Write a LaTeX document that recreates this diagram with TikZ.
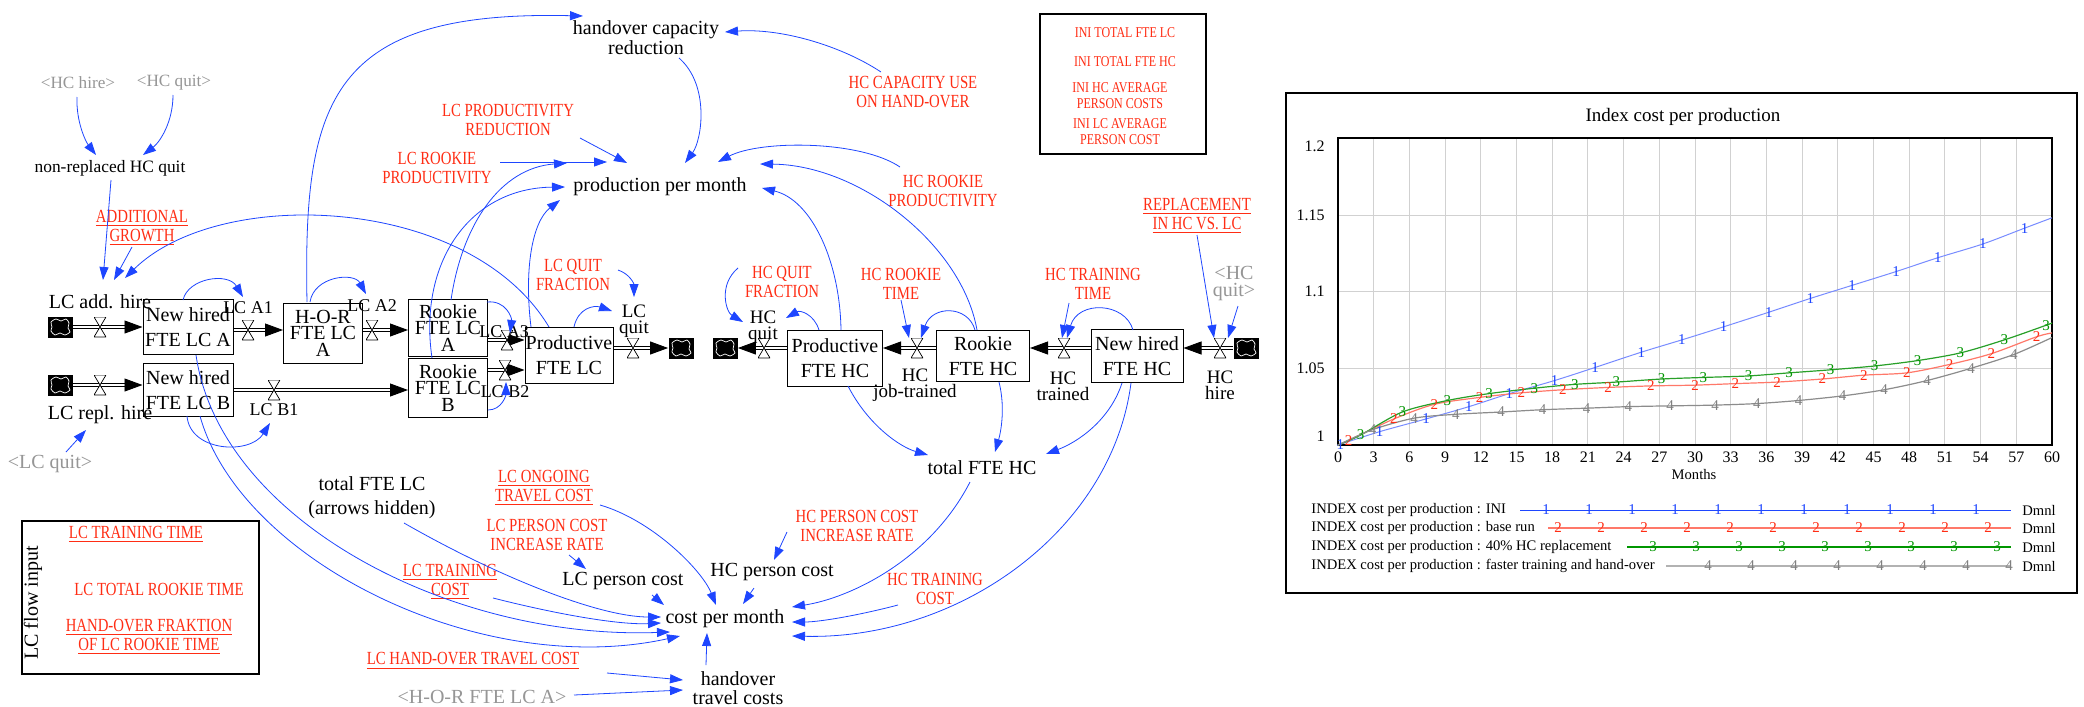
\documentclass[tikz,border=0pt]{standalone}
\usepackage{fontspec}
\setmainfont{Liberation Serif}
\newfontfamily\condfont[FakeStretch=0.8]{Liberation Serif}
\usetikzlibrary{arrows.meta, backgrounds}

\definecolor{vblue}{RGB}{30,70,255}
\definecolor{vred}{RGB}{255,45,20}
\definecolor{vgray}{RGB}{150,150,150}
\definecolor{lnblue}{RGB}{120,140,255}
\definecolor{lnred}{RGB}{255,120,105}
\definecolor{lngreen}{RGB}{40,160,40}
\definecolor{mkgreen}{RGB}{0,150,0}

\tikzset{
  stock/.style={draw, line width=0.5pt, fill=white, align=center, inner sep=0pt, font=\fontsize{10}{12.5}\selectfont},
  stockthree/.style={stock, font=\fontsize{10}{8.2}\selectfont},
  var/.style={align=center, inner sep=1pt, font=\fontsize{10}{11}\selectfont},
  flowlbl/.style={align=center, inner sep=0.5pt, font=\fontsize{9.5}{8}\selectfont},
  smalllbl/.style={inner sep=1pt, font=\fontsize{9}{10}\selectfont},
  const/.style={align=center, inner sep=1pt, text=vred, font=\condfont\fontsize{9.25}{9.7}\selectfont},
  initext/.style={const, font=\condfont\fontsize{7.5}{8}\selectfont},
  ghost/.style={align=center, inner sep=1pt, text=vgray, font=\fontsize{10}{8.5}\selectfont},
  conn/.style={draw=vblue, line width=0.4pt, -{Triangle[length=6.5pt,width=4.5pt]}},
  pipe/.style={double, double distance=1.2pt, line width=0.45pt, -{Triangle[length=9pt,width=6.5pt]}},
  valve/.style={minimum width=6pt, minimum height=10pt, inner sep=0pt,
    path picture={\filldraw[fill=white, line width=0.35pt] (path picture bounding box.north west) -- (path picture bounding box.north east) -- (path picture bounding box.south west) -- (path picture bounding box.south east) -- cycle;}},
  sinkcloud/.style={minimum width=12.5pt, minimum height=10.5pt, inner sep=0pt, fill=black,
    path picture={\draw[white, line width=0.35pt, shift={(path picture bounding box.center)}] plot[smooth cycle] coordinates {(-9,-5) (-4,-8) (1,-6) (6,-8) (9,-4) (8,1) (10,5) (5,8) (0,6) (-5,8) (-9,4) (-8,0)};}},
  grid/.style={draw=black!18, line width=0.5pt},
  tick/.style={inner sep=1pt, font=\fontsize{8}{9}\selectfont},
  legend/.style={inner sep=0pt, anchor=west, font=\fontsize{7.3}{8}\selectfont},
  mk/.style={inner sep=0pt, font=\fontsize{7.5}{8}\selectfont}
}

\begin{document}
\begin{tikzpicture}[x=0.5pt, y=-0.5pt]
	\useasboundingbox (0,0) rectangle (2084,707);

	% stocks
	\node[stock, minimum width=45pt, minimum height=27.5pt] (nhA) at (188,327) {New hired\\FTE LC A};
	\node[stockthree, minimum width=39.5pt, minimum height=30pt] (horA) at (323,333) {H-O-R\\FTE LC\\A};
	\node[stockthree, minimum width=39.5pt, minimum height=28.5pt] (rkA) at (448,328) {Rookie\\FTE LC\\A};
	\node[stockthree, minimum width=39.5pt, minimum height=29.5pt] (rkB) at (448,388) {Rookie\\FTE LC\\B};
	\node[stock, minimum width=45pt, minimum height=26.5pt] (nhB) at (188,390) {New hired\\FTE LC B};
	\node[stock, minimum width=44pt, minimum height=28pt] (prodLC) at (569,355) {Productive\\FTE LC};
	\node[stock, minimum width=47.5pt, minimum height=28pt] (prodHC) at (835,358) {Productive\\FTE HC};
	\node[stock, minimum width=46.5pt, minimum height=25.5pt] (rkHC) at (983,356) {Rookie\\FTE HC};
	\node[stock, minimum width=46pt, minimum height=26.5pt] (nhHC) at (1137,356) {New hired\\FTE HC};

	% clouds and valves
	\node[sinkcloud] (cLA) at (60,327) {};
	\node[sinkcloud] (cLB) at (60,385) {};
	\node[sinkcloud] (cLQ) at (681,348) {};
	\node[sinkcloud] (cHQ) at (725,348) {};
	\node[sinkcloud] (cHH) at (1246,348) {};
	\node[valve] (vLA) at (100,327) {};
	\node[valve] (vA1) at (248,330) {};
	\node[valve] (vA2) at (372,330) {};
	\node[valve] (vA3) at (507,340) {};
	\node[valve] (vLB) at (100,385) {};
	\node[valve] (vB1) at (274,390) {};
	\node[valve] (vB2) at (505,370) {};
	\node[valve] (vLQ) at (633,348) {};
	\node[valve] (vHQ) at (764,348) {};
	\node[valve] (vHJ) at (917,348) {};
	\node[valve] (vHT) at (1064,348) {};
	\node[valve] (vHH) at (1220,348) {};

	% flows
	\begin{scope}[on background layer]
		\fill[white] (0,0) rectangle (2084,707);
		\draw[pipe] (cLA) -- (nhA);
		\draw[pipe] (nhA.east |- vA1) -- (horA.west |- vA1);
		\draw[pipe] (horA.east |- vA2) -- (rkA.west |- vA2);
		\draw[pipe] (rkA.east |- vA3) -- (prodLC.west |- vA3);
		\draw[pipe] (cLB) -- (nhB.west |- cLB);
		\draw[pipe] (nhB.east |- vB1) -- (rkB.west |- vB1);
		\draw[pipe] (rkB.east |- vB2) -- (prodLC.west |- vB2);
		\draw[pipe] (prodLC.east |- vLQ) -- (cLQ);
		\draw[pipe] (prodHC.west |- vHQ) -- (cHQ);
		\draw[pipe] (rkHC.west |- vHJ) -- (prodHC.east |- vHJ);
		\draw[pipe] (nhHC.west |- vHT) -- (rkHC.east |- vHT);
		\draw[pipe] (cHH) -- (nhHC.east |- vHH);
	\end{scope}

	% flow labels
	\node[var] (lcah) at (100,302) {LC add. hire};
	\node[var] (lcrh) at (100,415) {LC repl. hire};
	\node[smalllbl] (lA1) at (248,308) {LC A1};
	\node[smalllbl] (lA2) at (372,306) {LC A2};
	\node[smalllbl] (lA3) at (504,332) {LC A3};
	\node[smalllbl] (lB1) at (274,410) {LC B1};
	\node[smalllbl] (lB2) at (505,392) {LC B2};
	\node[flowlbl] (lcq) at (634,321) {LC\\quit};
	\node[flowlbl] (hcq) at (763,327) {HC\\quit};
	\node[flowlbl] (hcjt) at (915,385) {HC\\job-trained};
	\node[flowlbl] (hct) at (1063,386) {HC\\trained};
	\node[flowlbl] (hch) at (1220,385) {HC\\hire};

	% variables
	\node[var, font=\fontsize{10}{8}\selectfont] (hcr) at (646,38) {handover capacity\\reduction};
	\node[var] (ppm) at (660,187) {production per month};
	\node[var, font=\fontsize{8.7}{9}\selectfont] (nrq) at (110,168) {non-replaced HC quit};
	\node[var, font=\fontsize{10}{12}\selectfont] (tlc) at (372,498) {total FTE LC\\(arrows hidden)};
	\node[var] (lcpcost) at (623,581) {LC person cost};
	\node[var] (cpm) at (725,619) {cost per month};
	\node[var, font=\fontsize{10}{9.5}\selectfont] (htc) at (738,688) {handover\\travel costs};
	\node[var] (hcpcost) at (772,572) {HC person cost};
	\node[var] (thc) at (982,468) {total FTE HC};

	% constants
	\node[const] (lcpr) at (508,120) {LC PRODUCTIVITY\\REDUCTION};
	\node[const] (lcrp) at (437,168) {LC ROOKIE\\PRODUCTIVITY};
	\node[const] (hcu) at (913,92) {HC CAPACITY USE\\ON HAND-OVER};
	\node[const] (hcrp) at (943,191) {HC ROOKIE\\PRODUCTIVITY};
	\node[const] (addg) at (142,228) {\underline{ADDITIONAL}\\\underline{GROWTH}};
	\node[const] (repl) at (1197,216) {\underline{REPLACEMENT}\\\underline{IN HC VS. LC}};
	\node[const] (lcqf) at (573,275) {LC QUIT\\FRACTION};
	\node[const] (hcqf) at (782,282) {HC QUIT\\FRACTION};
	\node[const] (hcrt) at (901,284) {HC ROOKIE\\TIME};
	\node[const] (hctt) at (1093,284) {HC TRAINING\\TIME};
	\node[const] (lcot) at (544,488) {\underline{LC ONGOING}\\\underline{TRAVEL COST}};
	\node[const] (lcpc) at (547,535) {LC PERSON COST\\INCREASE RATE};
	\node[const] (lctc) at (450,582) {\underline{LC TRAINING}\\\underline{COST}};
	\node[const] (lchtc) at (473,661) {\underline{LC HAND-OVER TRAVEL COST}};
	\node[const] (hcpc) at (857,526) {HC PERSON COST\\INCREASE RATE};
	\node[const] (hctc) at (935,589) {HC TRAINING\\COST};

	% shadow variables
	\node[ghost, font=\fontsize{8.6}{9}\selectfont] (hcg) at (78,83) {<HC hire>};
	\node[ghost, font=\fontsize{8.6}{9}\selectfont] (hcqg) at (174,83) {<HC quit>};
	\node[ghost] (hcqg2) at (1234,284) {<HC\\quit>};
	\node[ghost] (lcqg) at (50,464) {<LC quit>};
	\node[ghost] (horg) at (482,697) {<H-O-R FTE LC A>};

	% initial values box
	\draw[line width=0.6pt] (1040,14) rectangle (1206,154);
	\node[initext] (ini1) at (1125,33) {INI TOTAL FTE LC};
	\node[initext] (ini2) at (1125,62) {INI TOTAL FTE HC};
	\node[initext] (ini3) at (1120,96) {INI HC AVERAGE\\PERSON COSTS};
	\node[initext] (ini4) at (1120,132) {INI LC AVERAGE\\PERSON COST};

	% LC flow input box
	\draw[line width=0.6pt] (22,521) rectangle (259,674);
	\node[var, rotate=90] (lcfi) at (33,603) {LC flow input};
	\node[const] (lctt) at (136,534) {\underline{LC TRAINING TIME}};
	\node[const] (lctrt) at (159,589) {LC TOTAL ROOKIE TIME};
	\node[const] (hofr) at (149,637) {\underline{HAND-OVER FRAKTION}\\\underline{OF LC ROOKIE TIME}};

	% connectors, upper part
	\draw[conn] ([shift={(-16,-31)}]horA.center) .. controls (303,100) and (330,10) .. ([shift={(-63,-22)}]hcr.center);
	\draw[conn] ([shift={(-32,-20)}]hcu.center) .. controls (840,45) and (780,28) .. ([shift={(79,-6)}]hcr.center);
	\draw[conn] ([shift={(33,20)}]hcr.center) .. controls (710,85) and (702,140) .. ([shift={(25,-24)}]ppm.center);
	\draw[conn] ([shift={(72,18)}]lcpr.center) -- ([shift={(-33,-24)}]ppm.center);
	\draw[conn] ([shift={(63,-6)}]lcrp.center) -- ([shift={(-53,-25)}]ppm.center);
	\draw[conn] ([shift={(3,-28)}]rkA.center) .. controls (462,225) and (500,168) .. ([shift={(-93,-24)}]ppm.center);
	\draw[conn] ([shift={(-16,-30)}]rkB.center) .. controls (418,262) and (470,188) .. ([shift={(-95,0)}]ppm.center);
	\draw[conn] ([shift={(-38,-28)}]prodLC.center) .. controls (524,270) and (532,222) .. ([shift={(-100,13)}]ppm.center);
	\draw[conn] ([shift={(-43,-24)}]hcrp.center) .. controls (860,140) and (760,140) .. ([shift={(58,-25)}]ppm.center);
	\draw[conn] ([shift={(-6,-26)}]rkHC.center) .. controls (962,245) and (860,165) .. ([shift={(100,-23)}]ppm.center);
	\draw[conn] ([shift={(6,-28)}]prodHC.center) .. controls (840,262) and (812,200) .. ([shift={(102,1)}]ppm.center);
	\draw[conn] ([shift={(-20,-28)}]prodLC.center) .. controls (470,195) and (220,185) .. ([shift={(25,-24)}]lcah.center);
	\draw[conn] ([shift={(1,12)}]nrq.center) -- ([shift={(3,-22)}]lcah.center);
	\draw[conn] ([shift={(-10,19)}]addg.center) -- ([shift={(14,-22)}]lcah.center);
	\draw[conn] ([shift={(-1,14)}]hcg.center) .. controls (76,122) and (86,142) .. ([shift={(-14,-13)}]nrq.center);
	\draw[conn] ([shift={(-1,12)}]hcqg.center) .. controls (173,122) and (160,142) .. ([shift={(33,-13)}]nrq.center);

	% connectors to flows
	\draw[conn] ([shift={(45,-5)}]lcqf.center) .. controls (630,274) and (634,284) .. ([shift={(0,-24)}]lcq.center);
	\draw[conn] ([shift={(5,-28)}]prodLC.center) .. controls (578,308) and (594,305) .. ([shift={(-22,-10)}]lcq.center);
	\draw[conn] ([shift={(-5,-27)}]nhA.center) .. controls (188,278) and (228,272) .. ([shift={(-5,-11)}]lA1.center);
	\draw[conn] ([shift={(-13,-31)}]horA.center) .. controls (314,276) and (354,272) .. ([shift={(-6,-12)}]lA2.center);
	\draw[conn] ([shift={(39,-26)}]rkA.center) .. controls (506,300) and (512,318) .. ([shift={(3,-7)}]vA3.center);
	\draw[conn] ([shift={(-1,26)}]nhB.center) .. controls (190,452) and (250,455) .. ([shift={(-4,13)}]lB1.center);
	\draw[conn] ([shift={(40,22)}]rkB.center) .. controls (502,410) and (506,395) .. ([shift={(1,12)}]vB2.center);
	\draw[conn] ([shift={(16,-12)}]lcqg.center) -- ([shift={(-14,15)}]lcrh.center);
	\draw[conn] ([shift={(-44,-14)}]hcqf.center) .. controls (718,285) and (726,312) .. ([shift={(-20,-5)}]hcq.center);
	\draw[conn] ([shift={(-16,-28)}]prodHC.center) .. controls (814,314) and (800,310) .. ([shift={(23,-9)}]hcq.center);
	\draw[conn] ([shift={(0,16)}]hcrt.center) -- ([shift={(-8,-10)}]vHJ.center);
	\draw[conn] ([shift={(-8,-26)}]rkHC.center) .. controls (968,305) and (932,305) .. ([shift={(4,-10)}]vHJ.center);
	\draw[conn] ([shift={(-24,19)}]hctt.center) -- ([shift={(-2,-10)}]vHT.center);
	\draw[conn] ([shift={(-4,-26)}]nhHC.center) .. controls (1125,302) and (1078,300) .. ([shift={(3,-10)}]vHT.center);
	\draw[conn] ([shift={(0,19)}]repl.center) -- ([shift={(-6,-10)}]vHH.center);
	\draw[conn] ([shift={(4,22)}]hcqg2.center) -- ([shift={(8,-10)}]vHH.center);

	% connectors, lower part
	\draw[conn] ([shift={(13,28)}]prodHC.center) .. controls (868,425) and (900,447) .. ([shift={(-54,-13)}]thc.center);
	\draw[conn] ([shift={(16,26)}]rkHC.center) .. controls (1006,410) and (1000,435) .. ([shift={(13,-16)}]thc.center);
	\draw[conn] ([shift={(-15,27)}]nhHC.center) .. controls (1110,420) and (1078,442) .. ([shift={(64,-14)}]thc.center);
	\draw[conn] ([shift={(-12,14)}]thc.center) .. controls (930,560) and (850,598) .. ([shift={(67,-12)}]cpm.center);
	\draw[conn] ([shift={(-6,27)}]nhHC.center) .. controls (1112,530) and (960,640) .. ([shift={(67,17)}]cpm.center);
	\draw[conn] ([shift={(-37,16)}]hctc.center) .. controls (860,615) and (820,622) .. ([shift={(67,3)}]cpm.center);
	\draw[conn] ([shift={(-18,16)}]hcpcost.center) -- ([shift={(18,-15)}]cpm.center);
	\draw[conn] ([shift={(-70,6)}]hcpc.center) -- ([shift={(2,-12)}]hcpcost.center);
	\draw[conn] ([shift={(29,14)}]lcpcost.center) -- ([shift={(-61,-14)}]cpm.center);
	\draw[conn] ([shift={(22,20)}]lcpc.center) -- ([shift={(-37,-12)}]lcpcost.center);
	\draw[conn] ([shift={(56,17)}]lcot.center) .. controls (652,520) and (702,570) .. ([shift={(-9,-14)}]cpm.center);
	\draw[conn] ([shift={(32,25)}]tlc.center) .. controls (500,578) and (600,617) .. ([shift={(-64,-2)}]cpm.center);
	\draw[conn] ([shift={(43,16)}]lctc.center) .. controls (560,615) and (620,625) .. ([shift={(-64,4)}]cpm.center);
	\draw[conn] ([shift={(8,28)}]nhA.center) .. controls (220,520) and (450,640) .. ([shift={(-55,13)}]cpm.center);
	\draw[conn] ([shift={(12,26)}]nhB.center) .. controls (240,560) and (480,680) .. ([shift={(-45,17)}]cpm.center);
	\draw[conn] ([shift={(134,12)}]lchtc.center) -- ([shift={(-55,-8)}]htc.center);
	\draw[conn] ([shift={(92,-2)}]horg.center) -- ([shift={(-55,2)}]htc.center);
	\draw[conn] ([shift={(-32,-23)}]htc.center) -- ([shift={(-18,14)}]cpm.center);

	% graph
	\draw[line width=0.6pt] (1286,93) rectangle (2077,593);
	\node[inner sep=1pt, font=\fontsize{9.5}{11}\selectfont] (ctitle) at (1683,117) {Index cost per production};
	\foreach \k in {1,...,19}
		\draw[grid] ({1338+35.7*\k},138) -- ({1338+35.7*\k},445);
	\foreach \yy in {215,291,368}
		\draw[grid] (1338,\yy) -- (2052,\yy);
	\draw[line width=1.1pt] (1338,138) rectangle (2052,445);
	\foreach \m in {0,3,...,60}
		\node[tick] (xt\m) at ({1338+11.9*\m},457) {\m};
	\node[tick, anchor=east] (yt1) at (1327,146) {1.2};
	\node[tick, anchor=east] (yt2) at (1327,215) {1.15};
	\node[tick, anchor=east] (yt3) at (1327,291) {1.1};
	\node[tick, anchor=east] (yt4) at (1327,368) {1.05};
	\node[tick, anchor=east] (yt5) at (1327,436) {1};
	\node[tick, font=\fontsize{7.3}{8}\selectfont] (months) at (1694,475) {Months};

	\begin{scope}[shift={(1338,445)}, x=5.95pt, y=767.5pt]
		\draw[lnblue, line width=0.5pt] plot[smooth] coordinates {(0,0) (0.2,0.0005) (3.5,0.0087) (7.4,0.017) (11,0.025) (14.4,0.0335) (18.2,0.042) (21.6,0.0505) (25.5,0.0605) (28.9,0.0685) (32.4,0.077) (36.2,0.0865) (39.7,0.0955) (43.2,0.104) (46.9,0.113) (50.4,0.122) (54.2,0.131) (57.7,0.1413) (60,0.148)};
		\draw[lnred, line width=0.6pt] plot[smooth] coordinates {(0,0) (0.9,0.003) (4.7,0.017) (8.1,0.0265) (11.9,0.031) (15.4,0.034) (18.9,0.036) (22.7,0.0375) (26.3,0.0385) (30,0.039) (33.4,0.04) (36.9,0.041) (40.7,0.043) (44.2,0.0455) (47.8,0.047) (51.4,0.0525) (54.9,0.0595) (58.7,0.0705) (60,0.073)};
		\draw[lngreen, line width=0.6pt] plot[smooth] coordinates {(0,0) (1.9,0.0065) (5.4,0.0215) (9.2,0.029) (12.7,0.0335) (16.5,0.037) (19.9,0.0395) (23.4,0.041) (27.2,0.043) (30.7,0.044) (34.5,0.045) (37.9,0.047) (41.4,0.049) (45.1,0.0515) (48.7,0.055) (52.3,0.06) (56,0.0685) (59.5,0.078) (60,0.0795)};
		\draw[black!45, line width=0.6pt] plot[smooth] coordinates {(0,0) (2.9,0.01) (6.4,0.0175) (9.9,0.02) (13.7,0.0215) (17.2,0.023) (20.9,0.024) (24.4,0.025) (27.9,0.0255) (31.7,0.026) (35.2,0.027) (38.7,0.029) (42.4,0.032) (45.9,0.036) (49.5,0.042) (53.2,0.05) (56.8,0.059) (60,0.07)};
		\foreach \m/\v [count=\i] in {0.2/0.0005, 3.5/0.0087, 7.4/0.017, 11/0.025, 14.4/0.0335, 18.2/0.042, 21.6/0.0505, 25.5/0.0605, 28.9/0.0685, 32.4/0.077, 36.2/0.0865, 39.7/0.0955, 43.2/0.104, 46.9/0.113, 50.4/0.122, 54.2/0.131, 57.7/0.1413}
			\node[mk, text=vblue] (mb\i) at (\m,\v) {1};
		\foreach \m/\v [count=\i] in {0.9/0.003, 4.7/0.017, 8.1/0.0265, 11.9/0.031, 15.4/0.034, 18.9/0.036, 22.7/0.0375, 26.3/0.0385, 30/0.039, 33.4/0.04, 36.9/0.041, 40.7/0.043, 44.2/0.0455, 47.8/0.047, 51.4/0.0525, 54.9/0.0595, 58.7/0.0705}
			\node[mk, text=vred] (mr\i) at (\m,\v) {2};
		\foreach \m/\v [count=\i] in {1.9/0.0065, 5.4/0.0215, 9.2/0.029, 12.7/0.0335, 16.5/0.037, 19.9/0.0395, 23.4/0.041, 27.2/0.043, 30.7/0.044, 34.5/0.045, 37.9/0.047, 41.4/0.049, 45.1/0.0515, 48.7/0.055, 52.3/0.06, 56/0.0685, 59.5/0.078}
			\node[mk, text=mkgreen] (mg\i) at (\m,\v) {3};
		\foreach \m/\v [count=\i] in {2.9/0.01, 6.4/0.0175, 9.9/0.02, 13.7/0.0215, 17.2/0.023, 20.9/0.024, 24.4/0.025, 27.9/0.0255, 31.7/0.026, 35.2/0.027, 38.7/0.029, 42.4/0.032, 45.9/0.036, 49.5/0.042, 53.2/0.05, 56.8/0.059}
			\node[mk, text=black!50] (mq\i) at (\m,\v) {4};
	\end{scope}

	% legend
	\node[legend] (lg1) at (1311,510) {INDEX cost per production : INI};
	\node[legend] (lg2) at (1311,528) {INDEX cost per production : base run};
	\node[legend] (lg3) at (1311,547) {INDEX cost per production : 40\% HC replacement};
	\node[legend] (lg4) at (1311,566) {INDEX cost per production : faster training and hand-over};
	\draw[vblue, line width=0.5pt] (1520,510) -- (2011,510);
	\draw[lnred, line width=1.1pt] (1548,528) -- (2011,528);
	\draw[mkgreen, line width=0.6pt] (1627,547) -- (2011,547);
	\draw[black!30, line width=1.1pt] (1666,566) -- (2011,566);
	\foreach \k in {0,...,10}
		\node[mk, text=vblue] (lm1\k) at ({1546+43*\k},510) {1};
	\foreach \k in {0,...,10}
		\node[mk, text=vred] (lm2\k) at ({1558+43*\k},528) {2};
	\foreach \k in {0,...,8}
		\node[mk, text=mkgreen] (lm3\k) at ({1653+43*\k},547) {3};
	\foreach \k in {0,...,7}
		\node[mk, text=black!50] (lm4\k) at ({1708+43*\k},566) {4};
	\node[legend] (u1) at (2022,510) {Dmnl};
	\node[legend] (u2) at (2022,528) {Dmnl};
	\node[legend] (u3) at (2022,547) {Dmnl};
	\node[legend] (u4) at (2022,566) {Dmnl};
\end{tikzpicture}
\end{document}
